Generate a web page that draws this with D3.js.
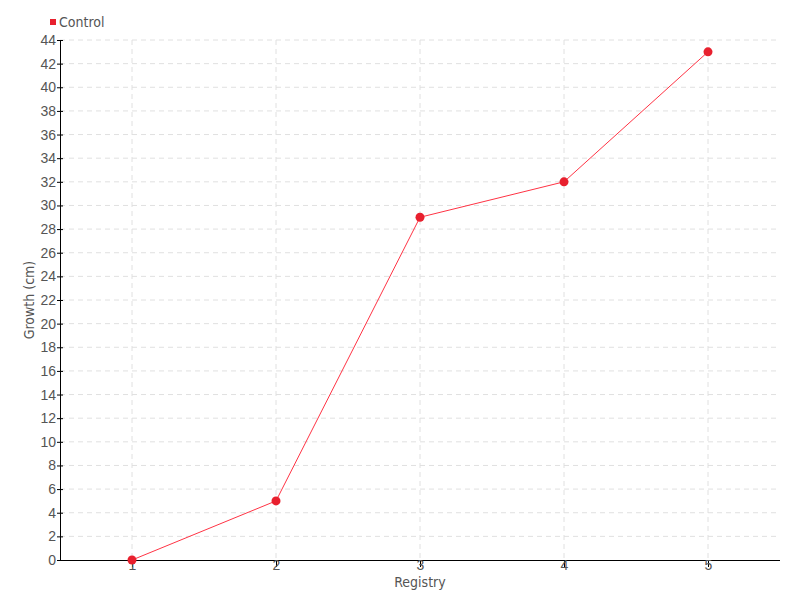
<!DOCTYPE html>
<html>
<head>
<meta charset="utf-8">
<script src="https://cdn.jsdelivr.net/npm/d3@7"></script>
<style>
  body { margin: 0; background: #fff; }
  svg { font-family: "DejaVu Sans Condensed", "DejaVu Sans", sans-serif; font-stretch: condensed; }
  .grid line { stroke: #e0e0e0; stroke-dasharray: 5,4; }
  .axis text { fill: #555; font-size: 14px; }
  .axis path, .axis line { stroke: #000; }
</style>
</head>
<body>
<svg width="800" height="600"></svg>
<script>
// data
var registry = [1, 2, 3, 4, 5];
var growth = [0, 5, 29, 32, 43];
var seriesName = "Control";
var yTicks = d3.range(0, 45, 2);

var svg = d3.select("svg"),
  margin = {top: 40, right: 20, bottom: 40, left: 60},
  width = 800 - margin.left - margin.right,
  height = 600 - margin.top - margin.bottom;

var g = svg.append("g").attr("transform", "translate(" + margin.left + "," + margin.top + ")");

var x = d3.scaleLinear().domain([0.5, 5.5]).range([0, width]);
var y = d3.scaleLinear().domain([0, 44]).range([height, 0]);

// grid
g.append("g").attr("class", "grid")
  .selectAll("line.h").data(yTicks.slice(1)).enter().append("line")
  .attr("x1", 0).attr("x2", width)
  .attr("y1", d => y(d)).attr("y2", d => y(d));
g.append("g").attr("class", "grid")
  .selectAll("line.v").data(registry).enter().append("line")
  .attr("x1", d => x(d)).attr("x2", d => x(d))
  .attr("y1", 0).attr("y2", height);

// axes
var yAxis = g.append("g").attr("class", "axis")
  .call(d3.axisLeft(y).tickValues(yTicks).tickSize(3).tickSizeOuter(0).tickPadding(2));
yAxis.selectAll(".tick line").attr("x1", 3).attr("x2", -3);
yAxis.selectAll(".tick text").attr("x", -4);

var xAxis = g.append("g").attr("class", "axis")
  .attr("transform", "translate(0," + height + ")")
  .call(d3.axisBottom(x).tickValues(registry).tickFormat(d3.format("d")).tickSize(7).tickSizeOuter(0));
xAxis.select(".domain").attr("d", "M0,0.5H" + width);
xAxis.selectAll(".tick line").attr("stroke", "#555");
xAxis.selectAll(".tick text").attr("y", 0).attr("dy", "0.71em");

// axis titles
g.append("text")
  .attr("x", width / 2).attr("y", height + 27)
  .attr("text-anchor", "middle").attr("fill", "#555").style("font-size", "14px")
  .text("Registry");
g.append("text")
  .attr("transform", "translate(-26," + (height / 2) + ") rotate(-90)")
  .attr("text-anchor", "middle").attr("fill", "#555").style("font-size", "14px")
  .text("Growth (cm)");

// line + points
var line = d3.line().x((d, i) => x(registry[i])).y(d => y(d));
g.append("path").datum(growth)
  .attr("fill", "none").attr("stroke", "#ff3344").attr("stroke-width", 1)
  .attr("d", line);
g.selectAll("circle").data(growth).enter().append("circle")
  .attr("cx", (d, i) => x(registry[i])).attr("cy", d => y(d))
  .attr("r", 4.5).attr("fill", "#e8202e");

// legend
var legend = svg.append("g").attr("transform", "translate(50,22)");
legend.append("rect").attr("x", 0).attr("y", -3).attr("width", 6).attr("height", 6).attr("fill", "#e8202e");
legend.append("text").attr("x", 9).attr("y", 5).attr("fill", "#555").style("font-size", "14px").text(seriesName);
</script>
</body>
</html>
